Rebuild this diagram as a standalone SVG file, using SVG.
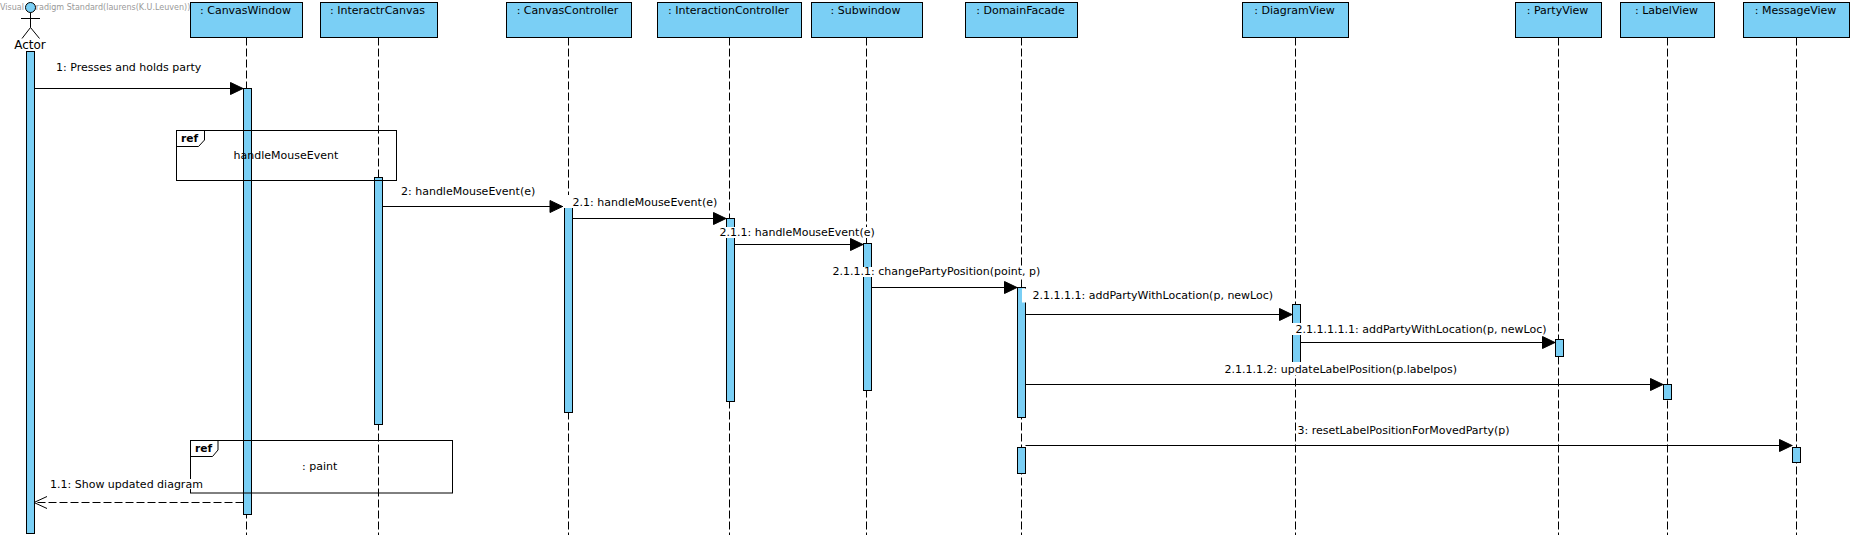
<svg xmlns="http://www.w3.org/2000/svg" width="1854" height="538" viewBox="0 0 1854 538">
<style>
text{font-family:"DejaVu Sans",sans-serif;fill:#000}
.h{fill:#7ACFF5;stroke:#000;stroke-width:1}
.a{fill:#7ACFF5;stroke:#000;stroke-width:1}
.ll{stroke:#000;stroke-width:1;stroke-dasharray:8 3;fill:none}
.m{stroke:#000;stroke-width:1;fill:none;marker-end:url(#tri)}
.r{stroke:#000;stroke-width:1;fill:none;stroke-dasharray:8 3;marker-end:url(#open)}
.f{stroke:#000;stroke-width:1;fill:none}
.bg{fill:#fff}
.t{font-size:11px}
.n{font-size:11px;text-anchor:middle}
.c{font-size:12px;text-anchor:middle}
.b{font-size:10.7px;font-weight:bold}
.w{font-size:8px;fill:#999}
</style>
<defs>
<marker id="tri" markerUnits="userSpaceOnUse" markerWidth="15" markerHeight="15" refX="14" refY="7.500" orient="auto"><path d="M1 1.500L13.500 7.500L1 13.500Z" fill="#000" stroke="#000" stroke-width="1"/></marker>
<marker id="open" markerUnits="userSpaceOnUse" markerWidth="14" markerHeight="14" refX="13" refY="7" orient="auto"><path d="M0 1L13 7L0 13" fill="none" stroke="#000" stroke-width="1"/></marker>
</defs>
<text class="w" x="0" y="9.500">Visual Paradigm Standard(laurens(K.U.Leuven))</text>
<g id="lifelines">
<path class="ll" d="M246.500 37.500V535"/>
<path class="ll" d="M378.500 37.500V535"/>
<path class="ll" d="M568.500 37.500V535"/>
<path class="ll" d="M729.500 37.500V535"/>
<path class="ll" d="M866.500 37.500V535"/>
<path class="ll" d="M1021.500 37.500V535"/>
<path class="ll" d="M1295.500 37.500V535"/>
<path class="ll" d="M1558.500 37.500V535"/>
<path class="ll" d="M1667.500 37.500V535"/>
<path class="ll" d="M1796.500 37.500V535"/>
</g>
<g id="actor">
<circle cx="30.500" cy="7.500" r="5" fill="#7ACFF5" stroke="#000"/>
<path class="f" d="M30.500 12.500V27.500M21 18.500H40M30.500 27.500L22 38.500M30.500 27.500L39.500 38.500"/>
<text class="c" x="30" y="49">Actor</text>
<rect class="a" x="26.500" y="51.500" width="8" height="482"/>
</g>
<g id="canvasWindow">
<rect class="h" x="190.500" y="2.500" width="112" height="35"/>
<text class="n" x="245.500" y="13.500">: CanvasWindow</text>
<rect class="a" x="243.500" y="88.500" width="8" height="426"/>
</g>
<g id="interactrCanvas">
<rect class="h" x="320.500" y="2.500" width="117" height="35"/>
<text class="n" x="377.500" y="13.500">: InteractrCanvas</text>
<rect class="a" x="374.500" y="177.500" width="8" height="247"/>
</g>
<g id="canvasController">
<rect class="h" x="506.500" y="2.500" width="125" height="35"/>
<text class="n" x="567.500" y="13.500">: CanvasController</text>
<rect class="a" x="564.500" y="206.500" width="8" height="206"/>
</g>
<g id="interactionController">
<rect class="h" x="657.500" y="2.500" width="144" height="35"/>
<text class="n" x="728.500" y="13.500">: InteractionController</text>
<rect class="a" x="726.500" y="218.500" width="8" height="183"/>
</g>
<g id="subwindow">
<rect class="h" x="811.500" y="2.500" width="111" height="35"/>
<text class="n" x="865.500" y="13.500">: Subwindow</text>
<rect class="a" x="863.500" y="243.500" width="8" height="147"/>
</g>
<g id="domainFacade">
<rect class="h" x="965.500" y="2.500" width="112" height="35"/>
<text class="n" x="1020.500" y="13.500">: DomainFacade</text>
<rect class="a" x="1017.500" y="287.500" width="8" height="130"/>
<rect class="a" x="1017.500" y="447.500" width="8" height="26"/>
</g>
<g id="diagramView">
<rect class="h" x="1242.500" y="2.500" width="106" height="35"/>
<text class="n" x="1294.500" y="13.500">: DiagramView</text>
<rect class="a" x="1292.500" y="304.500" width="8" height="70"/>
</g>
<g id="partyView">
<rect class="h" x="1515.500" y="2.500" width="86" height="35"/>
<text class="n" x="1557.500" y="13.500">: PartyView</text>
<rect class="a" x="1555.500" y="339.500" width="8" height="17"/>
</g>
<g id="labelView">
<rect class="h" x="1620.500" y="2.500" width="94" height="35"/>
<text class="n" x="1666.500" y="13.500">: LabelView</text>
<rect class="a" x="1663.500" y="384.500" width="8" height="15"/>
</g>
<g id="messageView">
<rect class="h" x="1743.500" y="2.500" width="106" height="35"/>
<text class="n" x="1795.500" y="13.500">: MessageView</text>
<rect class="a" x="1792.500" y="447.500" width="8" height="15"/>
</g>
<g id="ref1">
<rect class="f" x="176.500" y="130.500" width="220" height="50"/>
<path class="f" d="M176.500 146.500H198.500L204.500 140V130.500"/>
<text class="b" x="181" y="141.500">ref</text>
<text class="t" x="233.500" y="158.500">handleMouseEvent</text>
</g>
<g id="ref2">
<rect class="f" x="190.500" y="440.500" width="262" height="52.500"/>
<path class="f" d="M190.500 456.500H212.500L218 450V440.500"/>
<text class="b" x="195" y="451.500">ref</text>
<text class="t" x="302" y="470">: paint</text>
</g>
<g id="connectors">
<path class="m" d="M34.500 88.500H243.500"/>
<path class="m" d="M382.500 206.500H563"/>
<path class="m" d="M572.500 218.500H726.500"/>
<path class="m" d="M734.500 244.500H863.500"/>
<path class="m" d="M871.500 287.500H1017.500"/>
<path class="m" d="M1025.500 314.500H1292.500"/>
<path class="m" d="M1300.500 342.500H1555.500"/>
<path class="m" d="M1025.500 384.500H1663.500"/>
<path class="m" d="M1025.500 445.500H1792.500"/>
<path class="r" d="M243.500 502.500H34"/>
</g>
<g id="labels">
<rect class="bg" x="399" y="185" width="138" height="12"/>
<rect class="bg" x="564" y="195" width="154" height="13"/>
<rect class="bg" x="719" y="227" width="156" height="11"/>
<rect class="bg" x="832" y="267" width="209" height="10"/>
<rect class="bg" x="1022" y="288.500" width="252" height="14"/>
<rect class="bg" x="1292" y="323" width="256" height="12"/>
<rect class="bg" x="1223" y="362" width="235" height="13"/>
<rect class="bg" x="1297" y="424" width="214" height="12"/>
<rect class="bg" x="50" y="479" width="153" height="10"/>
<text class="t" x="56" y="71">1: Presses and holds party</text>
<text class="t" x="401" y="195">2: handleMouseEvent(e)</text>
<text class="t" x="572.500" y="205.500">2.1: handleMouseEvent(e)</text>
<text class="t" x="719.500" y="235.500">2.1.1: handleMouseEvent(e)</text>
<text class="t" x="832.500" y="275">2.1.1.1: changePartyPosition(point, p)</text>
<text class="t" x="1032.500" y="298.500">2.1.1.1.1: addPartyWithLocation(p, newLoc)</text>
<text class="t" x="1295.500" y="333">2.1.1.1.1.1: addPartyWithLocation(p, newLoc)</text>
<text class="t" x="1224.500" y="373">2.1.1.1.2: updateLabelPosition(p.labelpos)</text>
<text class="t" x="1297.500" y="434">3: resetLabelPositionForMovedParty(p)</text>
<text class="t" x="50" y="488">1.1: Show updated diagram</text>
</g>
</svg>
